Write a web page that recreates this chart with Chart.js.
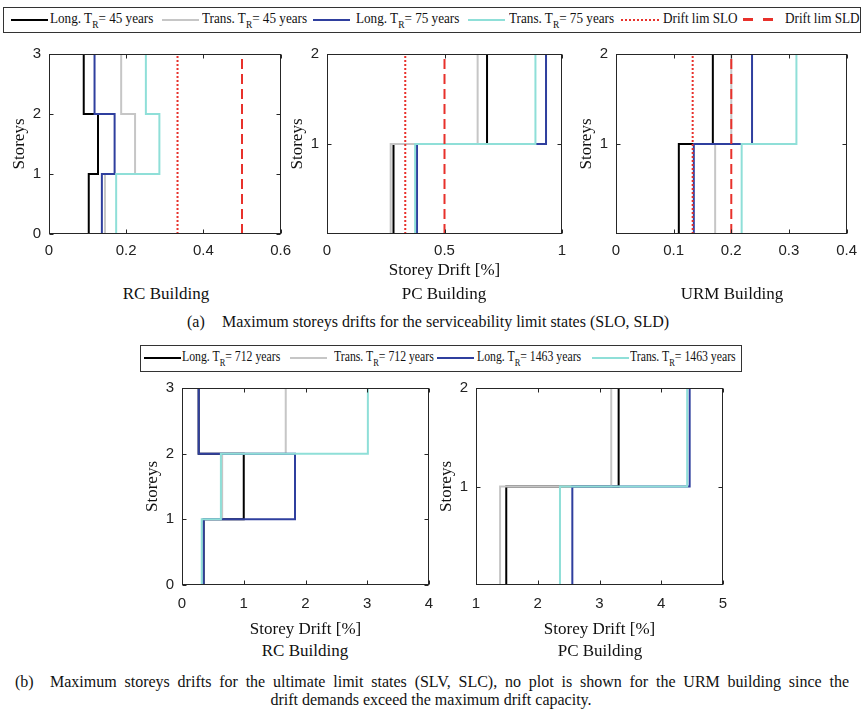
<!DOCTYPE html>
<html>
<head>
<meta charset="utf-8">
<script src="https://cdn.jsdelivr.net/npm/chart.js@4.4.1/dist/chart.umd.min.js"></script>
<style>
  body { margin: 0; background: #fff; width: 863px; height: 711px; position: relative; overflow: hidden;
         font-family: "Liberation Serif", "Times New Roman", serif; color: #111; }
  canvas { position: absolute; }
  .txt { position: absolute; white-space: nowrap; transform: translate(-50%, -50%); font-size: 17px; }
  .cap { position: absolute; white-space: nowrap; font-size: 16px; line-height: 18px; }
  .legend { position: absolute; border: 1px solid #333; box-sizing: border-box; font-size: 14px; background: #fff; }
  .legend .lab { position: absolute; top: 3px; white-space: nowrap; line-height: 16px; transform-origin: 0 50%; }
  #legendTop .lab { transform: scaleX(0.94); }
  #legendBottom .lab { transform: scaleX(0.84); }
  .legend sub { font-size: 10px; vertical-align: -5px; line-height: 0; }
  .swatch { position: absolute; height: 0; }
</style>
</head>
<body>

<div class="legend" id="legendTop" style="left:3px; top:7px; width:858px; height:26px;"></div>
<div class="legend" id="legendBottom" style="left:140px; top:345px; width:602px; height:27px;"></div>

<canvas id="rcSls"></canvas>
<canvas id="pcSls"></canvas>
<canvas id="urmSls"></canvas>
<canvas id="rcUls"></canvas>
<canvas id="pcUls"></canvas>

<div class="txt" style="left:166px; top:294px;">RC Building</div>
<div class="txt" style="left:444px; top:294px;">PC Building</div>
<div class="txt" style="left:732px; top:294px;">URM Building</div>
<div class="cap" style="left:187px; top:313px;">(a)</div>
<div class="cap" style="left:222px; top:313px;">Maximum storeys drifts for the serviceability limit states (SLO, SLD)</div>
<div class="txt" style="left:305px; top:651px;">RC Building</div>
<div class="txt" style="left:600px; top:651px;">PC Building</div>
<div class="cap" style="left:15px; top:673px;">(b)</div>
<div class="cap" style="left:50px; top:673px; width:799px; text-align:justify; text-align-last:justify;">Maximum storeys drifts for the ultimate limit states (SLV, SLC), no plot is shown for the URM building since the</div>
<div class="cap" style="left:431px; top:691px; transform:translateX(-50%);">drift demands exceed the maximum drift capacity.</div>

<script>
// storey drift [%] per storey, from ground floor up
const rcLong45 = [0.103, 0.127, 0.090];
const rcTrans45 = [0.145, 0.223, 0.187];
const rcLong75 = [0.137, 0.170, 0.118];
const rcTrans75 = [0.174, 0.286, 0.251];

const pcLong45 = [0.283, 0.681];
const pcTrans45 = [0.271, 0.641];
const pcLong75 = [0.383, 0.932];
const pcTrans75 = [0.375, 0.887];

const urmLong45 = [0.109, 0.168];
const urmTrans45 = [0.172, 0.200];
const urmLong75 = [0.135, 0.236];
const urmTrans75 = [0.218, 0.313];

const rcLong712 = [0.35, 1.00, 0.27];
const rcTrans712 = [0.33, 0.65, 1.68];
const rcLong1463 = [0.35, 1.83, 0.27];
const rcTrans1463 = [0.32, 0.63, 3.01];

const pcLong712 = [1.49, 3.31];
const pcTrans712 = [1.39, 3.19];
const pcLong1463 = [2.56, 4.46];
const pcTrans1463 = [2.36, 4.42];

// drift limits [SLO, SLD]
const rcLimits = [0.333, 0.5];
const pcLimits = [0.333, 0.5];
const urmLimits = [0.133, 0.2];

// tick labels
const rcSlsXTicks = [0, 0.2, 0.4, 0.6];
const pcSlsXTicks = [0, 0.5, 1];
const urmSlsXTicks = [0, 0.1, 0.2, 0.3, 0.4];
const rcUlsXTicks = [0, 1, 2, 3, 4];
const pcUlsXTicks = [1, 2, 3, 4, 5];
const yTicks3 = [0, 1, 2, 3];
const yTicks2 = [1, 2];

const slsLabels = ['Long. T<sub>R</sub>= 45 years', 'Trans. T<sub>R</sub>= 45 years',
                   'Long. T<sub>R</sub>= 75 years', 'Trans. T<sub>R</sub>= 75 years',
                   'Drift lim SLO', 'Drift lim SLD'];
const ulsLabels = ['Long. T<sub>R</sub>= 712 years', 'Trans. T<sub>R</sub>= 712 years',
                   'Long. T<sub>R</sub>= 1463 years', 'Trans. T<sub>R</sub>= 1463 years'];

const seriesColors = ['#000000', '#c6c6c6', '#2f3f9e', '#8fdfd8'];
const limitColor = '#e8312b';

function stepPoints(vals) {
    const pts = [];
    vals.forEach((v, i) => {
        pts.push({ x: v, y: i });
        pts.push({ x: v, y: i + 1 });
    });
    return pts;
}

// axes box with inward ticks, Matlab style
const frame = {
    id: 'frame',
    afterDatasetsDraw(chart) {
        const { ctx, chartArea: a, scales } = chart;
        const l = Math.round(a.left) + 0.5, r = Math.round(a.right) - 0.5;
        const t = Math.round(a.top) + 0.5, b = Math.round(a.bottom) - 0.5;
        ctx.save();
        ctx.strokeStyle = '#262626';
        ctx.lineWidth = 1;
        ctx.strokeRect(l, t, r - l, b - t);
        ctx.beginPath();
        scales.x.ticks.forEach(tk => {
            const px = Math.round(scales.x.getPixelForValue(tk.value)) + 0.5;
            ctx.moveTo(px, b); ctx.lineTo(px, b - 4);
            ctx.moveTo(px, t); ctx.lineTo(px, t + 4);
        });
        scales.y.ticks.forEach(tk => {
            const py = Math.round(scales.y.getPixelForValue(tk.value)) + 0.5;
            ctx.moveTo(l, py); ctx.lineTo(l + 4, py);
            ctx.moveTo(r, py); ctx.lineTo(r - 4, py);
        });
        ctx.stroke();
        ctx.restore();
    }
};

function makeChart(id, rect, xMin, xMax, xTicks, yMax, yTicks, series, limits, xTitle, xh, labelPad) {
    const [x0, y0, x1, y1] = rect;
    const YW = 40, PT = 10, PR = 16;
    const cv = document.getElementById(id);
    cv.width = x1 - x0 + YW + PR;
    cv.height = y1 - y0 + PT + xh;
    cv.style.left = (x0 - YW) + 'px';
    cv.style.top = (y0 - PT) + 'px';
    cv.style.width = cv.width + 'px';
    cv.style.height = cv.height + 'px';

    const datasets = series.map((vals, i) => ({
        data: stepPoints(vals),
        borderColor: seriesColors[i],
        borderWidth: 2
    }));
    if (limits) {
        limits.forEach((lim, i) => {
            datasets.push({
                data: [{ x: lim, y: 0 }, { x: lim, y: yMax }],
                borderColor: limitColor,
                borderWidth: 2,
                borderDash: i === 0 ? [2, 2] : [10, 5]
            });
        });
    }
    datasets.forEach((d, i) => { d.order = datasets.length - i; });

    const tickFont = { family: '"Liberation Sans", Arial, sans-serif', size: 15 };
    const titleFont = { family: '"Liberation Serif", "Times New Roman", serif', size: 17 };

    new Chart(cv, {
        type: 'line',
        data: { datasets },
        options: {
            responsive: false,
            animation: false,
            layout: { padding: { top: PT, right: PR, left: 0, bottom: 0 } },
            elements: { point: { radius: 0 }, line: { tension: 0 } },
            plugins: { legend: { display: false }, tooltip: { enabled: false } },
            scales: {
                x: {
                    type: 'linear', min: xMin, max: xMax,
                    afterBuildTicks: s => { s.ticks = xTicks.map(v => ({ value: v })); },
                    afterFit: s => { s.height = xh; },
                    grid: { display: false, drawTicks: false },
                    border: { display: false },
                    ticks: { padding: labelPad, font: tickFont, color: '#222', maxRotation: 0, autoSkip: false,
                             callback: v => String(v) },
                    title: { display: !!xTitle, text: xTitle || '', font: titleFont, color: '#111', padding: 0 }
                },
                y: {
                    type: 'linear', min: 0, max: yMax,
                    afterBuildTicks: s => { s.ticks = yTicks.map(v => ({ value: v })); },
                    afterFit: s => { s.width = YW; },
                    grid: { display: false, drawTicks: false },
                    border: { display: false },
                    ticks: { padding: 8, font: tickFont, color: '#222', autoSkip: false,
                             callback: v => String(v) },
                    title: { display: true, text: 'Storeys', font: titleFont, color: '#111', padding: 0 }
                }
            }
        },
        plugins: [frame]
    });
}

makeChart('rcSls', [49, 47, 283, 234], 0, 0.6, rcSlsXTicks, 3, yTicks3,
    [rcLong45, rcTrans45, rcLong75, rcTrans75], rcLimits, null, 30, 8);
makeChart('pcSls', [327, 47, 562, 234], 0, 1, pcSlsXTicks, 2, yTicks2,
    [pcLong45, pcTrans45, pcLong75, pcTrans75], pcLimits, 'Storey Drift [%]', 47, 8);
makeChart('urmSls', [616, 47, 849, 234], 0, 0.4, urmSlsXTicks, 2, yTicks2,
    [urmLong45, urmTrans45, urmLong75, urmTrans75], urmLimits, null, 30, 8);
makeChart('rcUls', [182, 381, 429, 585], 0, 4, rcUlsXTicks, 3, yTicks3,
    [rcLong712, rcTrans712, rcLong1463, rcTrans1463], null, 'Storey Drift [%]', 55, 10);
makeChart('pcUls', [476, 381, 723, 585], 1, 5, pcUlsXTicks, 2, yTicks2,
    [pcLong712, pcTrans712, pcLong1463, pcTrans1463], null, 'Storey Drift [%]', 55, 10);

// legends: swatch left / text left inside each box
function swatchHtml(color, style, left) {
    const y = 11;
    if (style === 'dotted')
        return `<span class="swatch" style="left:${left}px; top:${y}px; width:38px; border-top:2px dotted ${color}"></span>`;
    if (style === 'dashed')
        return `<span class="swatch" style="left:${left}px; top:${y - 1}px; width:10px; border-top:3px solid ${color}"></span>` +
               `<span class="swatch" style="left:${left + 20}px; top:${y - 1}px; width:10px; border-top:3px solid ${color}"></span>`;
    return `<span class="swatch" style="left:${left}px; top:${y}px; width:37px; border-top:2px solid ${color}"></span>`;
}
function buildLegend(id, labels, colors, styles, swatchLefts, textLefts) {
    const el = document.getElementById(id);
    el.innerHTML = labels.map((lab, i) =>
        swatchHtml(colors[i], styles[i], swatchLefts[i]) +
        `<span class="lab" style="left:${textLefts[i]}px">${lab}</span>`).join('');
}
buildLegend('legendTop', slsLabels, [...seriesColors, limitColor, limitColor],
    ['solid', 'solid', 'solid', 'solid', 'dotted', 'dashed'],
    [7, 158, 309, 464, 617, 739], [46, 198, 352, 505, 659, 781]);
buildLegend('legendBottom', ulsLabels, seriesColors, ['solid', 'solid', 'solid', 'solid'],
    [3, 149, 296, 451], [41, 193, 336, 489]);
</script>
</body>
</html>
